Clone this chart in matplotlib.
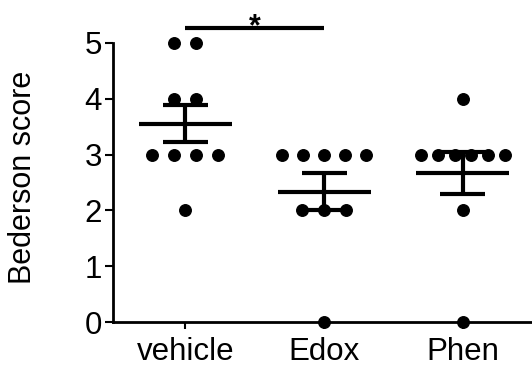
import numpy as np
import matplotlib.pyplot as plt

plt.rcParams['font.family'] = ['Liberation Sans', 'DejaVu Sans']

groups = ['vehicle', 'Edox', 'Phen']
vehicle = [5, 5, 4, 4, 3, 3, 3, 3, 2]
edox = [3, 3, 3, 3, 3, 2, 2, 2, 0]
phen = [4, 3, 3, 3, 3, 3, 3, 2, 0]
values = [vehicle, edox, phen]

fig = plt.figure(figsize=(5.32, 3.69), dpi=100)
ax = fig.add_axes([113 / 532, 47 / 369, 418 / 532, 279 / 369])

step, span = 0.158, 0.604
for i, vals in enumerate(values):
    vals = np.array(vals, dtype=float)
    xs = np.zeros(len(vals))
    for v in np.unique(vals):
        idx = np.where(vals == v)[0]
        k = len(idx)
        if k > 1:
            d = min(step, span / (k - 1))
            xs[idx] = i + (np.arange(k) - (k - 1) / 2) * d
        else:
            xs[idx] = i
    ax.plot(xs, vals, 'o', color='black', ms=8.3, clip_on=False, zorder=3)

    m = vals.mean()
    sem = vals.std(ddof=1) / np.sqrt(len(vals))
    ax.plot([i - 0.335, i + 0.335], [m, m], color='black', lw=3, solid_capstyle='butt', zorder=4)
    ax.plot([i, i], [m - sem, m + sem], color='black', lw=3, solid_capstyle='butt', zorder=4)
    for y in (m - sem, m + sem):
        ax.plot([i - 0.162, i + 0.162], [y, y], color='black', lw=3, solid_capstyle='butt', zorder=4)

# significance bar
ax.plot([0, 1], [5.27, 5.27], color='black', lw=3, clip_on=False, solid_capstyle='butt')
ax.text(0.5, 5.14, '*', ha='center', va='baseline', fontsize=22, fontweight='bold')

ax.set_xlim(-0.52, 2.49)
ax.set_ylim(0, 5)
ax.set_yticks(range(6))
ax.set_xticks(range(3))
ax.set_xticklabels(groups)
ax.tick_params(axis='y', length=6, width=1.5, labelsize=22.5, pad=2)
ax.tick_params(axis='x', length=5, width=1.5, labelsize=22.5, pad=6)
ax.set_ylabel('Bederson score', fontsize=22)
ax.yaxis.set_label_coords(-0.18, 0.52)
for s in ('top', 'right'):
    ax.spines[s].set_visible(False)
for s in ('left', 'bottom'):
    ax.spines[s].set_linewidth(2)

fig.savefig('out.png', dpi=100)
